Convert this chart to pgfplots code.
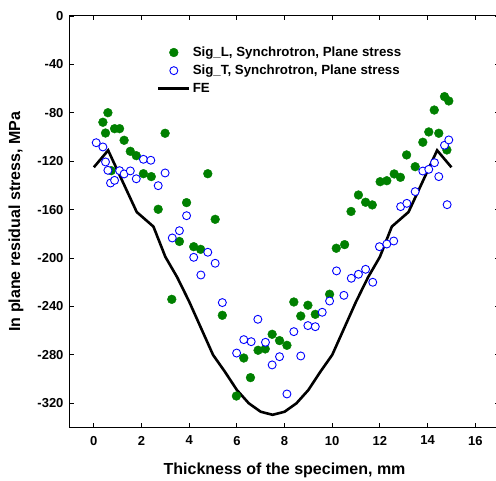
\documentclass[border=0pt]{standalone}
\usepackage{pgfplots}
\pgfplotsset{compat=1.18}
\usepackage{fontspec}
\setmainfont{Liberation Sans}
\definecolor{sigl}{HTML}{008000}
\definecolor{sigt}{HTML}{0000FF}

\begin{document}
\begin{tikzpicture}
\begin{axis}[
  name=ax,
  scale only axis, width=429.1pt, height=411.5pt,
  xmin=-1, xmax=17, ymin=-340, ymax=0,
  xtick={0,2,...,16}, ytick={-320,-280,...,0},
  tick align=inside, xtick pos=both, ytick pos=both,
  major tick length=4pt, minor tick num=0,
  axis line style={line width=1pt}, every tick/.style={black, line width=0.9pt},
  /pgf/number format/assume math mode=true,
  tick label style={font=\fontsize{13}{15}\selectfont\bfseries},
  yticklabel style={xshift=-3pt},
  xticklabel style={yshift=-5pt},
  label style={font=\fontsize{16}{19}\selectfont\bfseries},
  xlabel={Thickness of the specimen, mm},
  ylabel={In plane residual stress, MPa},
  xlabel style={at={(rel axis cs:0.5,-0.1033)}, anchor=center},
  ylabel style={at={(rel axis cs:-0.1258,0.5)}, anchor=center},
  legend cell align=left,
  legend style={at={(rel axis cs:0.195,0.935)}, anchor=north west, draw=none, fill=none,
    font=\fontsize{13.3}{15}\selectfont\bfseries, row sep=3pt,
    legend image code/.code={\draw[mark repeat=2,mark phase=2,#1]
      plot coordinates {(0cm,0cm) (0.55cm,0cm) (1.1cm,0cm)};}},
]
% Sig_L
\addplot[only marks, mark=*, mark size=4.4pt, draw=sigl, fill=sigl] table {
x y
0.38 -87.8
0.49 -96.7
0.59 -79.9
0.73 -127.8
0.87 -93.1
1.08 -93.1
1.27 -102.7
1.53 -111.8
1.78 -115.4
2.08 -130.3
2.41 -132.7
2.70 -159.7
2.99 -96.9
3.27 -234.1
3.59 -186.3
3.89 -154.2
4.19 -190.6
4.48 -192.8
4.78 -130.3
5.09 -168.0
5.39 -247.3
5.98 -314.0
6.29 -282.6
6.57 -298.8
6.89 -276.2
7.19 -275.1
7.48 -263.0
7.79 -268.2
8.10 -272.1
8.39 -236.3
8.68 -247.9
8.98 -239.0
9.29 -246.5
9.89 -229.9
10.17 -191.9
10.52 -188.9
10.79 -161.5
11.10 -147.9
11.40 -153.9
11.68 -156.1
12.01 -136.9
12.29 -136.1
12.60 -130.5
12.86 -133.3
13.12 -114.8
13.48 -124.5
13.80 -104.3
14.05 -95.8
14.28 -77.7
14.47 -96.9
14.71 -66.6
14.81 -110.7
14.89 -70.2
};
\addlegendentry{Sig\_L, Synchrotron, Plane stress}
% Sig_T
\addplot[only marks, mark=*, mark size=4pt, draw=sigt, fill=white, line width=0.9pt] table {
x y
0.10 -104.7
0.38 -108.2
0.49 -120.6
0.59 -127.5
0.70 -138.0
0.87 -135.8
1.08 -127.8
1.27 -130.5
1.53 -128.0
1.78 -134.5
2.08 -118.4
2.39 -119.2
2.70 -140.2
2.99 -129.7
3.29 -183.4
3.59 -177.4
3.89 -165.0
4.19 -199.4
4.49 -214.0
4.78 -195.2
5.09 -204.3
5.39 -236.8
5.99 -278.5
6.29 -267.4
6.60 -269.1
6.88 -250.6
7.20 -269.6
7.48 -288.3
7.79 -281.5
8.10 -312.3
8.39 -260.8
8.68 -280.9
8.98 -255.8
9.29 -256.7
9.58 -244.8
9.89 -235.5
10.18 -210.6
10.49 -230.8
10.80 -216.7
11.10 -213.4
11.40 -209.3
11.70 -220.0
11.98 -190.6
12.29 -188.4
12.58 -185.9
12.87 -157.5
13.13 -154.8
13.48 -145.1
13.80 -128.1
14.05 -126.7
14.29 -121.2
14.47 -132.7
14.71 -106.8
14.82 -155.9
14.89 -102.4
};
\addlegendentry{Sig\_T, Synchrotron, Plane stress}
% FE
\addplot[black, line width=2.6pt, no marks] table {
x y
0.0 -125
0.6 -111
1.8 -162
2.5 -174
3.0 -199
3.5 -216
4.0 -236
4.5 -258
5.0 -280
5.5 -294
6.0 -309
6.5 -320
7.0 -327
7.5 -329.5
8.0 -327
8.5 -320
9.0 -309
9.5 -294
10.0 -280
10.5 -258
11.0 -236
11.5 -216
12.0 -199
12.5 -174
13.2 -162
14.4 -111
15.0 -125
};
\addlegendentry{FE}
\end{axis}
\pgfresetboundingbox
\useasboundingbox ([xshift=-70pt,yshift=-53.5pt]ax.south west) rectangle ([xshift=426pt,yshift=16pt]ax.north west);
\end{tikzpicture}
\end{document}
